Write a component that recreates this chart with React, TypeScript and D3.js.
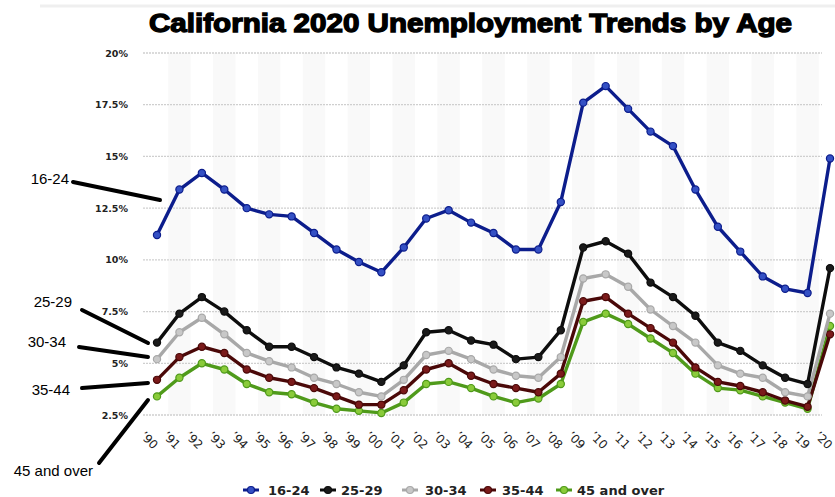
import React from "react";
import * as d3 from "d3";

const years = ["’90","’91","’92","’93","’94","’95","’96","’97","’98","’99","’00","’01","’02","’03","’04","’05","’06","’07","’08","’09","’10","’11","’12","’13","’14","’15","’16","’17","’18","’19","’20"];
const yTicks = [2.5, 5, 7.5, 10, 12.5, 15, 17.5, 20];
const yTickLabels = ["2.5%", "5%", "7.5%", "10%", "12.5%", "15%", "17.5%", "20%"];

const s1624 = [11.2,13.4,14.2,13.4,12.5,12.2,12.1,11.3,10.5,9.9,9.4,10.6,12.0,12.4,11.8,11.3,10.5,10.5,12.8,17.6,18.4,17.3,16.2,15.5,13.4,11.6,10.4,9.2,8.6,8.4,14.9];
const s2529 = [6.0,7.4,8.2,7.5,6.6,5.8,5.8,5.3,4.8,4.5,4.1,4.9,6.5,6.6,6.1,5.9,5.2,5.3,6.6,10.6,10.9,10.3,8.9,8.2,7.3,6.0,5.6,4.9,4.3,4.0,9.6];
const s3034 = [5.2,6.5,7.2,6.4,5.5,5.1,4.8,4.3,4.0,3.6,3.4,4.2,5.4,5.6,5.2,4.7,4.4,4.3,5.3,9.1,9.3,8.7,7.6,6.8,6.0,4.9,4.5,4.3,3.6,3.4,7.4];
const s3544 = [4.2,5.3,5.8,5.5,4.7,4.3,4.1,3.8,3.4,3.0,3.0,3.7,4.7,5.0,4.4,4.0,3.8,3.6,4.5,8.0,8.2,7.4,6.7,6.0,4.8,4.1,3.9,3.6,3.2,2.9,6.4];
const s45 = [3.4,4.3,5.0,4.7,4.0,3.6,3.5,3.1,2.8,2.7,2.6,3.1,4.0,4.1,3.8,3.4,3.1,3.3,4.0,7.0,7.4,6.9,6.2,5.5,4.5,3.8,3.7,3.4,3.1,2.8,6.8];

const seriesNames = ["16-24", "25-29", "30-34", "35-44", "45 and over"];
const seriesData = [s1624, s2529, s3034, s3544, s45];
const lineColors = ["#0c1d8c", "#0d0d0d", "#a8a8a8", "#4a0808", "#4f9a1a"];
const dotFills = ["#3450c4", "#1a1a1a", "#c8c8c8", "#7a1a1a", "#8acb3a"];

const annoLabels = ["16-24", "25-29", "30-34", "35-44", "45 and over"];

export default function App() {
  const W = 835, H = 497;
  const x = d3.scalePoint<string>().domain(years).range([157, 830]);
  const xLab = d3.scalePoint<string>().domain(years).range([139.5, 814]);
  const y = d3.scaleLinear().domain([2.5, 20]).range([415, 53]);
  const step = x.step();
  const line = d3.line<number>().x((_, i) => x(years[i])!).y((v) => y(v));

  const anno = [
    { tx: 69, ty: 184, x1: 73, y1: 182, x2: 160, y2: 200 },
    { tx: 72, ty: 307, x1: 82, y1: 310, x2: 148, y2: 343 },
    { tx: 66, ty: 347, x1: 79, y1: 347, x2: 148, y2: 357 },
    { tx: 70, ty: 395, x1: 82, y1: 388, x2: 148, y2: 383 },
    { tx: 93, ty: 476, x1: 99, y1: 463, x2: 148, y2: 400 },
  ];

  const legendItems = [
    { sx: 251, tx: 268 },
    { sx: 328, tx: 341 },
    { sx: 410, tx: 425 },
    { sx: 488, tx: 502 },
    { sx: 564, tx: 577 },
  ];

  return (
    <svg width={W} height={H} style={{ position: "absolute", left: 0, top: 0, background: "#fff" }}
      fontFamily="'Liberation Sans', Arial, sans-serif">
      <rect x={0} y={0} width={W} height={H} fill="#fff" />
      <line x1={40} x2={W} y1={6} y2={6} stroke="#efefef" strokeWidth={3} />
      {years.map((yr, i) =>
        i % 2 === 1 ? (
          <rect key={"b" + i} x={x(yr)! - step / 2} y={53} width={step} height={362} fill="#f9f9f9" />
        ) : null
      )}
      {yTicks.map((t, i) => (
        <g key={"g" + i}>
          <line x1={143} x2={822} y1={y(t)} y2={y(t)} stroke="#cfcfcf" strokeWidth={1.3} strokeDasharray="2,1" />
          <text x={128} y={y(t) + 3.5} textAnchor="end" fontSize={9.5} fontWeight="bold" fill="#222"
            fontFamily="'DejaVu Sans', Verdana, sans-serif">{yTickLabels[i]}</text>
        </g>
      ))}
      {years.map((yr, i) => (
        <text key={"x" + i} transform={`translate(${xLab(yr)},${436.5}) rotate(45)`} fontSize={12} fill="#222"
          fontFamily="'DejaVu Sans', Verdana, sans-serif">{yr}</text>
      ))}
      {seriesData.slice().reverse().map((s, ri) => {
        const k = seriesData.length - 1 - ri;
        return (
          <g key={"s" + k}>
            <path d={line(s)!} fill="none" stroke={lineColors[k]} strokeWidth={3.4} strokeLinejoin="round" />
            {s.map((v, i) => (
              <circle key={i} cx={x(years[i])!} cy={y(v)} r={3.6} fill={dotFills[k]} stroke={lineColors[k]} strokeWidth={1.2} />
            ))}
          </g>
        );
      })}
      <text x={470.5} y={32} textAnchor="middle" fontSize={25} fontWeight="bold" fill="#000" stroke="#000" strokeWidth={1.3}
        textLength={643} lengthAdjust="spacingAndGlyphs">California 2020 Unemployment Trends by Age</text>
      {anno.map((a, i) => (
        <g key={"a" + i}>
          <line x1={a.x1} y1={a.y1} x2={a.x2} y2={a.y2} stroke="#000" strokeWidth={4} strokeLinecap="round" />
          <text x={a.tx} y={a.ty} textAnchor="end" fontSize={15} fill="#000">{annoLabels[i]}</text>
        </g>
      ))}
      {legendItems.map((l, i) => (
        <g key={"l" + i}>
          <line x1={l.sx - 8} x2={l.sx + 8} y1={490} y2={490} stroke={lineColors[i]} strokeWidth={3} />
          <circle cx={l.sx} cy={490} r={3.5} fill={dotFills[i]} stroke={lineColors[i]} strokeWidth={1.2} />
          <text x={l.tx} y={495} fontSize={13} fontWeight="bold" fill="#222"
            fontFamily="'DejaVu Sans', Verdana, sans-serif">{seriesNames[i]}</text>
        </g>
      ))}
    </svg>
  );
}
